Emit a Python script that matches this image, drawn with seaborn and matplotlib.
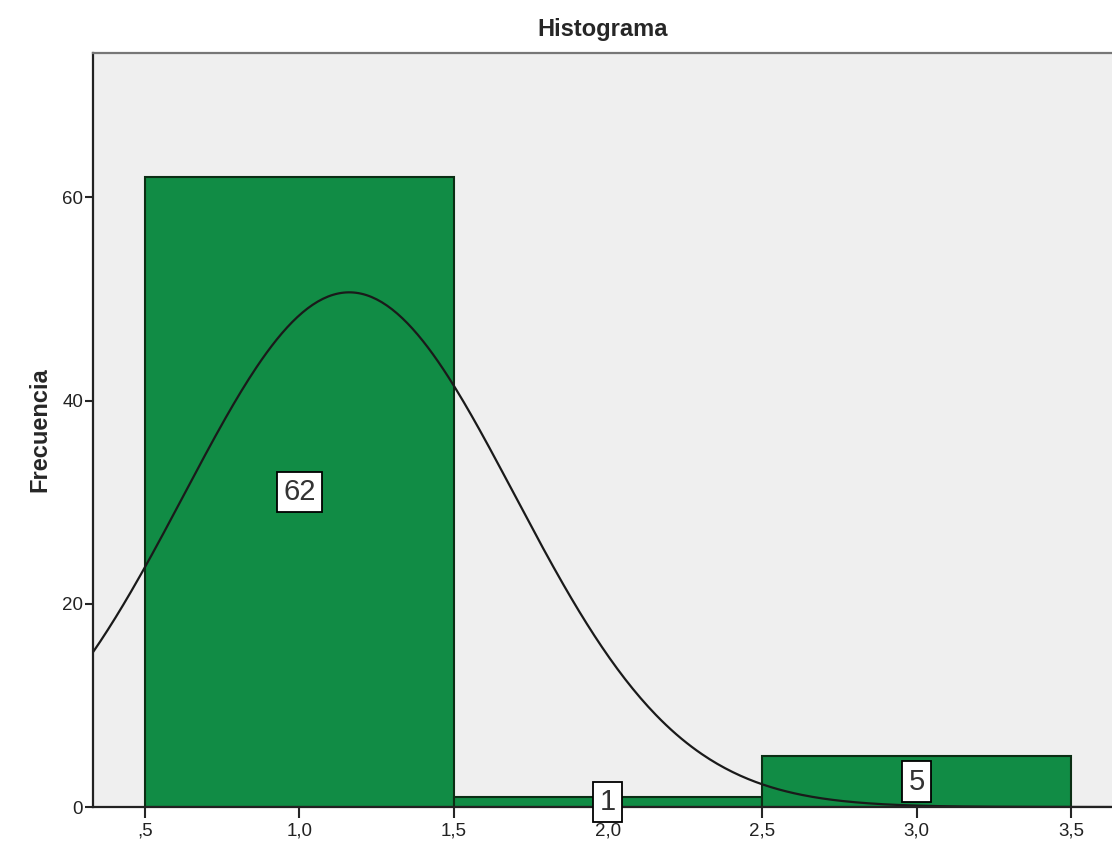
import numpy as np
import matplotlib
matplotlib.use("Agg")
import matplotlib.pyplot as plt
import seaborn as sns

# data
valores = [1, 2, 3]
frecuencias = [62, 1, 5]
bordes = [0.5, 1.5, 2.5, 3.5]
x_ticks = [0.5, 1.0, 1.5, 2.0, 2.5, 3.0, 3.5]
x_labels = [",5", "1,0", "1,5", "2,0", "2,5", "3,0", "3,5"]
y_ticks = [0, 20, 40, 60]

sns.set_style("white")
plt.rcParams["font.family"] = ["Liberation Sans", "DejaVu Sans"]

fig = plt.figure(figsize=(11.12, 8.47), dpi=100)
ax = fig.add_axes([0.0836, 0.0472, 0.9164, 0.8902])
ax.set_facecolor("#efefef")

sns.histplot(x=valores, weights=frecuencias, bins=bordes, color="#118c45",
             alpha=1, edgecolor="#0b2e14", linewidth=1.5, ax=ax)

# normal curve from the sample
n = sum(frecuencias)
datos = np.repeat(valores, frecuencias)
media = datos.mean()
sd = datos.std(ddof=1)
xs = np.linspace(0.33, 3.64, 400)
ys = n * 1.0 / (sd * np.sqrt(2 * np.pi)) * np.exp(-0.5 * ((xs - media) / sd) ** 2)
sns.lineplot(x=xs, y=ys, color="#1a1a1a", linewidth=1.6, ax=ax)

# count labels
for v, f in zip(valores, frecuencias):
    ax.text(v, f / 2, str(f), ha="center", va="center", fontsize=21,
            color="#333333", fontweight="light",
            bbox=dict(boxstyle="square,pad=0.22", fc="white", ec="black", lw=1.3))

ax.set_xlim(0.3315, 3.633)
ax.set_ylim(0, 74.2)
ax.set_xticks(x_ticks)
ax.set_xticklabels(x_labels, fontsize=13.5, color="#222222")
ax.set_yticks(y_ticks)
ax.set_yticklabels([str(t) for t in y_ticks], fontsize=13.5, color="#222222")
ax.tick_params(axis="x", direction="out", length=8, width=1.5, pad=3, bottom=True)
ax.tick_params(axis="y", direction="out", length=6, width=1.5, pad=1, left=True)

for s in ["left", "bottom", "top"]:
    ax.spines[s].set_color("#222222")
    ax.spines[s].set_linewidth(1.6)
ax.spines["top"].set_color("#777777")
ax.spines["right"].set_visible(False)

ax.set_xlabel("")
ax.set_ylabel("Frecuencia", fontsize=17, fontweight="bold", labelpad=8)
ax.set_title("Histograma", fontsize=17, fontweight="bold", pad=12)

fig.savefig("out.png", dpi=100)
